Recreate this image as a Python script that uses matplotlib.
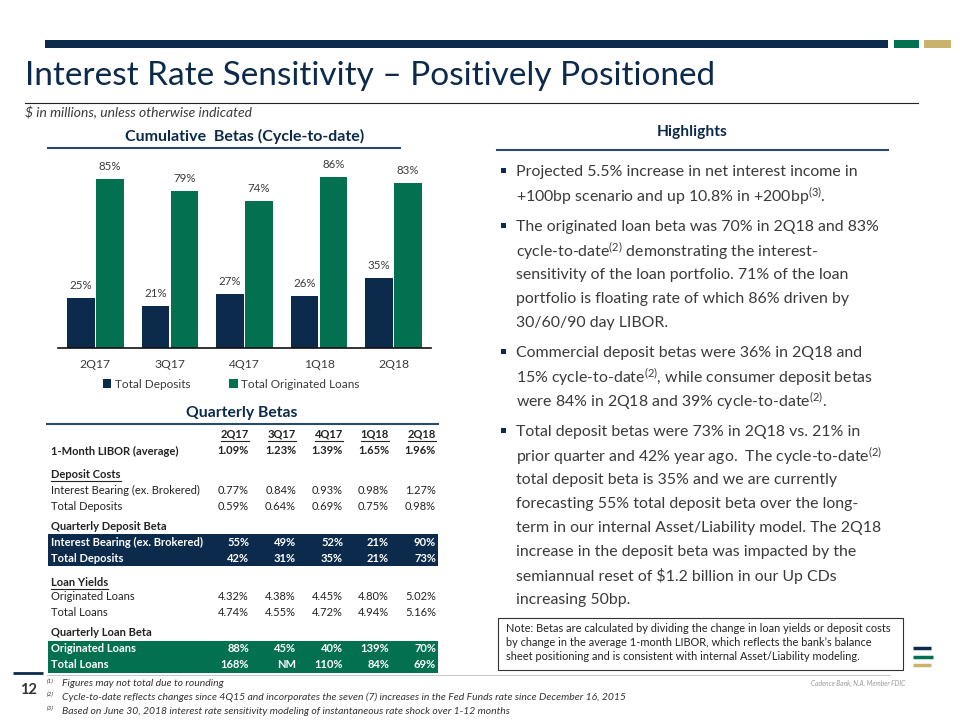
import matplotlib
matplotlib.use('Agg')
import matplotlib.pyplot as plt
from matplotlib.patches import Rectangle

plt.rcParams['font.family'] = ['Lato', 'DejaVu Sans']
plt.rcParams['mathtext.fontset'] = 'custom'
plt.rcParams['mathtext.rm'] = 'Lato'
plt.rcParams['mathtext.it'] = 'Lato:italic'
plt.rcParams['mathtext.bf'] = 'Lato:bold'

NAVY = '#0c2a4c'
GREEN = '#03704f'
GOLD = '#c9b36c'
TXT = '#3a3a3a'

# chart data
quarters = ['2Q17', '3Q17', '4Q17', '1Q18', '2Q18']
total_deposits = [25, 21, 27, 26, 35]
total_orig_loans = [85, 79, 74, 86, 83]

# table data
libor = [1.09, 1.23, 1.39, 1.65, 1.96]
cost_int_bearing = [0.77, 0.84, 0.93, 0.98, 1.27]
cost_total_dep = [0.59, 0.64, 0.69, 0.75, 0.98]
beta_int_bearing = [55, 49, 52, 21, 90]
beta_total_dep = [42, 31, 35, 21, 73]
yield_orig = [4.32, 4.38, 4.45, 4.80, 5.02]
yield_total = [4.74, 4.55, 4.72, 4.94, 5.16]
beta_orig = [88, 45, 40, 139, 70]
beta_total_loans = [168, None, 110, 84, 69]

highlights = [
    ['Projected 5.5% increase in net interest income in',
     '+100bp scenario and up 10.8% in +200bp$^{\\mathrm{(3)}}$.'],
    ['The originated loan beta was 70% in 2Q18 and 83%',
     'cycle-to-date$^{\\mathrm{(2)}}$ demonstrating the interest-',
     'sensitivity of the loan portfolio. 71% of the loan',
     'portfolio is floating rate of which 86% driven by',
     '30/60/90 day LIBOR.'],
    ['Commercial deposit betas were 36% in 2Q18 and',
     '15% cycle-to-date$^{\\mathrm{(2)}}$, while consumer deposit betas',
     'were 84% in 2Q18 and 39% cycle-to-date$^{\\mathrm{(2)}}$.'],
    ['Total deposit betas were 73% in 2Q18 vs. 21% in',
     'prior quarter and 42% year ago.  The cycle-to-date$^{\\mathrm{(2)}}$',
     'total deposit beta is 35% and we are currently',
     'forecasting 55% total deposit beta over the long-',
     'term in our internal Asset/Liability model. The 2Q18',
     'increase in the deposit beta was impacted by the',
     'semiannual reset of \\$1.2 billion in our Up CDs',
     'increasing 50bp.'],
]

note_lines = [
    'Note: Betas are calculated by dividing the change in loan yields or deposit costs',
    'by change in the average 1-month LIBOR, which reflects the bank\u2019s balance',
    'sheet positioning and is consistent with internal Asset/Liability modeling.',
]

footnotes = [
    'Figures may not total due to rounding',
    'Cycle-to-date reflects changes since 4Q15 and incorporates the seven (7) increases in the Fed Funds rate since December 16, 2015',
    'Based on June 30, 2018 interest rate sensitivity modeling of instantaneous rate shock over 1-12 months',
]

fig = plt.figure(figsize=(9.6, 7.2), dpi=100)
bg = fig.add_axes([0, 0, 1, 1])
bg.set_xlim(0, 960)
bg.set_ylim(720, 0)
bg.axis('off')
renderer = fig.canvas.get_renderer()


def underline(t, y, color=TXT):
    bb = t.get_window_extent(renderer)
    bg.plot([bb.x0, bb.x1], [y, y], color=color, lw=0.8)


# header bar
bg.add_patch(Rectangle((45, 40), 843, 8, color=NAVY, lw=0))
bg.add_patch(Rectangle((894, 40), 25, 8, color=GREEN, lw=0))
bg.add_patch(Rectangle((924, 40), 27, 8, color=GOLD, lw=0))

bg.text(25, 76, 'Interest Rate Sensitivity \u2013 Positively Positioned',
        fontsize=24, color=NAVY, va='center', ha='left')
bg.plot([25, 918], [103, 103], color='#222222', lw=0.8)
bg.text(25, 112, '\\$ in millions, unless otherwise indicated', fontsize=10,
        style='italic', color=TXT, va='center')

# section headers
bg.text(245, 136, 'Cumulative  Betas (Cycle-to-date)', fontsize=11.5,
        weight='bold', color=NAVY, ha='center', va='center')
bg.plot([48, 400], [148, 148], color='#2a4a6a', lw=1.5)
bg.text(692, 132, 'Highlights', fontsize=11.2, weight='bold', color=NAVY,
        ha='center', va='center')
bg.plot([497, 888], [150, 150], color='#2a4a6a', lw=1.5)
bg.text(242, 413, 'Quarterly Betas', fontsize=11.3, weight='bold',
        color=NAVY, ha='center', va='center')
bg.plot([47, 438], [424, 424], color='#2a4a6a', lw=1.5)

# bar chart
ax = fig.add_axes([58 / 960, (720 - 348) / 720, 373 / 960, 199 / 720])
xs = range(len(quarters))
w = 0.37
b1 = ax.bar([x - w / 2 - 0.01 for x in xs], total_deposits, w,
            color=NAVY, label='Total Deposits')
b2 = ax.bar([x + w / 2 + 0.01 for x in xs], total_orig_loans, w,
            color=GREEN, label='Total Originated Loans')
for bars in (b1, b2):
    for r in bars:
        ax.annotate(f'{r.get_height():.0f}%',
                    (r.get_x() + r.get_width() / 2, r.get_height()),
                    xytext=(0, 5), textcoords='offset points', ha='center',
                    va='bottom', fontsize=8.3, color=TXT)
ax.set_xlim(-0.5, 4.5)
ax.set_ylim(0, 100)
ax.set_xticks(list(xs))
ax.set_xticklabels(quarters, fontsize=8.7, color=TXT)
ax.tick_params(axis='x', length=0, pad=8)
ax.set_yticks([])
for s in ['top', 'right', 'left']:
    ax.spines[s].set_visible(False)
ax.spines['bottom'].set_color('#111111')
ax.spines['bottom'].set_linewidth(1.2)
ax.patch.set_alpha(0)
ax.legend(loc='upper center', bbox_to_anchor=(0.465, -0.1), ncol=2,
          frameon=False, fontsize=8.5, handlelength=0.7, handleheight=0.7,
          handletextpad=0.3, columnspacing=3.3, labelcolor=TXT)

# table
col_x = [249, 296, 343, 389, 436]
lab_x = 51
bg.add_patch(Rectangle((48, 534), 390, 32, color=NAVY, lw=0))
bg.add_patch(Rectangle((48, 641), 390, 32, color=GREEN, lw=0))


def pct(vals, dec):
    out = []
    for v in vals:
        out.append('NM' if v is None else f'{v:.{dec}f}%')
    return out


for cx, q in zip(col_x, quarters):
    t = bg.text(cx, 434, q, fontsize=8, weight='bold', color='#222222',
                ha='right', va='center')
    underline(t, 441, '#222222')

rows = [
    (451, '1-Month LIBOR (average)', pct(libor, 2), 'bold'),
    (474, 'Deposit Costs', None, 'section'),
    (490, 'Interest Bearing (ex. Brokered)', pct(cost_int_bearing, 2), 'normal'),
    (506, 'Total Deposits', pct(cost_total_dep, 2), 'normal'),
    (526, 'Quarterly Deposit Beta', None, 'bold'),
    (542, 'Interest Bearing (ex. Brokered)', pct(beta_int_bearing, 0), 'fill'),
    (558, 'Total Deposits', pct(beta_total_dep, 0), 'fill'),
    (582, 'Loan Yields', None, 'section'),
    (597, 'Originated Loans', pct(yield_orig, 2), 'normal'),
    (613, 'Total Loans', pct(yield_total, 2), 'normal'),
    (633, 'Quarterly Loan Beta', None, 'bold'),
    (649, 'Originated Loans', pct(beta_orig, 0), 'fill'),
    (665, 'Total Loans', pct(beta_total_loans, 0), 'fill'),
]
for y, label, vals, style in rows:
    color = 'white' if style == 'fill' else '#222222'
    wt = 'normal' if style == 'normal' else 'bold'
    t = bg.text(lab_x, y, label, fontsize=8, weight=wt, color=color,
                va='center')
    if style == 'section':
        underline(t, y + 7, '#222222')
    if vals:
        for cx, v in zip(col_x, vals):
            bg.text(cx, y, v, fontsize=8, weight=wt, color=color,
                    ha='right', va='center')

# highlights
starts = [172, 227, 353, 432]
for y0, lines in zip(starts, highlights):
    bg.add_patch(Rectangle((501, y0 - 4), 5, 5, color=NAVY, lw=0))
    for i, line in enumerate(lines):
        bg.text(516, y0 + 24 * i, line, fontsize=11.4, color=TXT,
                va='center')

# note box
bg.add_patch(Rectangle((498, 618), 405, 52, fill=False, ec='#333333',
                       lw=0.8))
for i, line in enumerate(note_lines):
    bg.text(506, 628 + 14.5 * i, line, fontsize=7.9, color='#222222',
            va='center')

# logo
bg.plot([913, 931], [648, 648], color=NAVY, lw=2.5, solid_capstyle='butt')
bg.plot([913, 933], [657, 657], color=GREEN, lw=2.5, solid_capstyle='butt')
bg.plot([913, 931], [665, 665], color=GOLD, lw=2.5, solid_capstyle='butt')

# footer
bg.plot([13, 43], [673, 673], color=NAVY, lw=2, solid_capstyle='butt')
bg.plot([47, 890], [675, 675], color='#bbbbbb', lw=0.6)
bg.text(28, 690, '12', fontsize=10.5, weight='bold', color='#333333',
        ha='center', va='center')
for i, line in enumerate(footnotes):
    y = 684 + 13.5 * i
    bg.text(47, y - 3, f'({i + 1})', fontsize=4.5, style='italic',
            color='#333333', va='center')
    bg.text(62, y, line, fontsize=7.5, style='italic', color='#333333',
            va='center')
bg.text(905, 683, 'Cadence Bank, N.A. Member FDIC', fontsize=4.8,
        style='italic', color='#999999', ha='right', va='center')

fig.savefig('out.png', dpi=100)
